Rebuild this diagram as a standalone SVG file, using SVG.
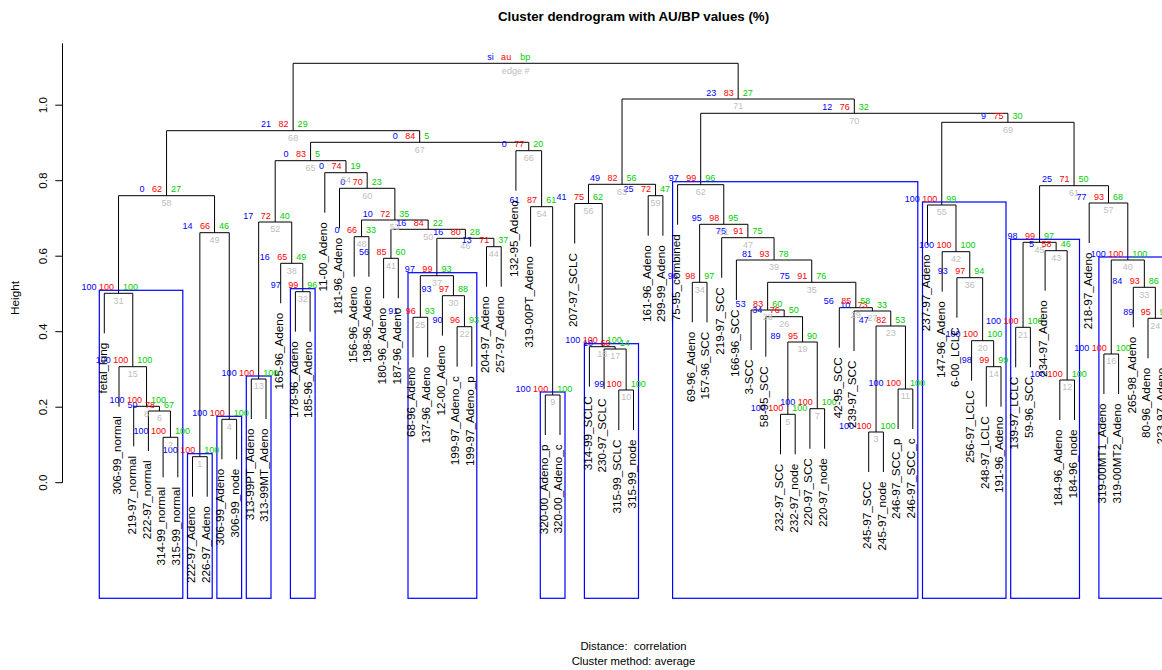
<svg xmlns="http://www.w3.org/2000/svg" width="1162" height="670" viewBox="0 0 1162 670">
<style>
text{font-family:"Liberation Sans",Arial,Helvetica,sans-serif}
.pv text{font-size:9px}
.si{fill:#0000ff;text-anchor:end}
.au{fill:#ff0000;text-anchor:end}
.bp{fill:#00cd00}
.ed{fill:#bebebe;text-anchor:middle}
.lf{font-size:11.7px;fill:#000;text-anchor:end}
.ax{font-size:11.7px;fill:#000;text-anchor:middle}
.box{fill:none;stroke:#0000ff;stroke-width:1.2}
</style>
<rect width="1162" height="670" fill="#fff"/>
<text x="633.5" y="21" font-size="13.3" font-weight="bold" text-anchor="middle">Cluster dendrogram with AU/BP values (%)</text>
<text x="633.5" y="650" font-size="11.3" text-anchor="middle" xml:space="preserve">Distance:  correlation</text>
<text x="633.5" y="665" font-size="11.3" text-anchor="middle">Cluster method: average</text>
<g id="yaxis" stroke="#000" fill="none" stroke-width="1">
<path d="M62.5 43.3V482.7M55.3 482.7H62.5M55.3 407.2H62.5M55.3 331.7H62.5M55.3 256.2H62.5M55.3 180.7H62.5M55.3 105.2H62.5"/>
</g>
<text class="ax" transform="translate(46.5,482.7) rotate(-90)">0.0</text>
<text class="ax" transform="translate(46.5,407.2) rotate(-90)">0.2</text>
<text class="ax" transform="translate(46.5,331.7) rotate(-90)">0.4</text>
<text class="ax" transform="translate(46.5,256.2) rotate(-90)">0.6</text>
<text class="ax" transform="translate(46.5,180.7) rotate(-90)">0.8</text>
<text class="ax" transform="translate(46.5,105.2) rotate(-90)">1.0</text>
<text class="ax" transform="translate(19,298) rotate(-90)">Height</text>
<g id="connectors" fill="none" stroke="#000" stroke-width="1">
<path d="M192.5 496.7V456.7H207.2V496.7"/>
<path d="M163.1 477.3V437.3H177.8V477.3"/>
<path d="M868.7 472V432H883.4V472"/>
<path d="M221.9 459.3V419.3H236.6V459.3"/>
<path d="M780.5 454.3V414.3H795.2V454.3"/>
<path d="M148.4 451V411H170.45V437.3"/>
<path d="M809.9 448.7V408.7H824.6V448.7"/>
<path d="M133.7 446.3V406.3H159.43V411"/>
<path d="M545.3 435V395H560V435"/>
<path d="M618.8 430V390H633.5V430"/>
<path d="M898.1 429V389H912.8V429"/>
<path d="M1059.8 420V380H1074.5V420"/>
<path d="M251.3 419V379H266V419"/>
<path d="M986.3 406.7V366.7H1001V406.7"/>
<path d="M119 406.7V366.7H146.56V406.3"/>
<path d="M1103.9 394V354H1118.6V394"/>
<path d="M604.1 389V349H626.15V390"/>
<path d="M589.4 386.7V346.7H615.13V349"/>
<path d="M787.85 414.3V342H817.25V408.7"/>
<path d="M971.6 380.7V340.7H993.65V366.7"/>
<path d="M1015.7 367.3V327.3H1030.4V367.3"/>
<path d="M457.1 366.7V326.7H471.8V366.7"/>
<path d="M876.05 432V326H905.45V389"/>
<path d="M1148 358.3V318.3H1162.7V358.3"/>
<path d="M413 357.3V317.3H427.7V357.3"/>
<path d="M765.8 356.7V316.7H802.55V342"/>
<path d="M854 351V311H890.75V326"/>
<path d="M751.1 350V310H784.18V316.7"/>
<path d="M839.3 347.7V307.7H872.38V311"/>
<path d="M442.4 335.7V295.7H464.45V326.7"/>
<path d="M104.3 333.3V293.3H132.78V366.7"/>
<path d="M295.4 331.7V291.7H310.1V331.7"/>
<path d="M1133.3 327.3V287.3H1155.35V318.3"/>
<path d="M692.3 322.3V282.3H707V322.3"/>
<path d="M767.64 310V282.3H855.84V307.7"/>
<path d="M956.9 317.7V277.7H982.63V340.7"/>
<path d="M420.35 317.3V275.7H453.43V295.7"/>
<path d="M280.7 303.3V263.3H302.75V291.7"/>
<path d="M736.4 300V260H811.74V282.3"/>
<path d="M1111.25 354V260H1144.33V287.3"/>
<path d="M383.6 298.3V258.3H398.3V298.3"/>
<path d="M942.2 291.7V251.7H969.77V277.7"/>
<path d="M1045.1 290.7V250.7H1067.15V380"/>
<path d="M486.5 286.7V246.7H501.2V286.7"/>
<path d="M1023.05 327.3V242.3H1056.13V250.7"/>
<path d="M436.89 275.7V238.3H493.85V246.7"/>
<path d="M721.7 277.7V237.7H774.07V260"/>
<path d="M354.2 276.7V236.7H368.9V276.7"/>
<path d="M199.85 456.7V232.7H229.25V419.3"/>
<path d="M390.95 258.3V229.3H465.37V238.3"/>
<path d="M699.65 282.3V224.3H747.89V237.7"/>
<path d="M258.65 379V222H291.73V263.3"/>
<path d="M361.55 236.7V220H428.16V229.3"/>
<path d="M530.6 246.7V206.7H552.65V395"/>
<path d="M927.5 245V205H955.99V251.7"/>
<path d="M574.7 243.5V203.5H602.26V346.7"/>
<path d="M1089.2 243V203H1127.79V260"/>
<path d="M118.54 293.3V195.7H214.55V232.7"/>
<path d="M648.2 235.7V195.7H662.9V235.7"/>
<path d="M339.5 228.3V188.3H394.86V220"/>
<path d="M1039.59 242.3V185.7H1108.5V203"/>
<path d="M677.6 224.7V184.7H723.77V224.3"/>
<path d="M588.48 203.5V184.3H655.55V195.7"/>
<path d="M324.8 212.7V172.7H367.18V188.3"/>
<path d="M275.19 222V160.7H345.99V172.7"/>
<path d="M515.9 190.7V150.7H541.63V206.7"/>
<path d="M310.59 160.7V142.3H528.77V150.7"/>
<path d="M166.55 195.7V130.7H419.68V142.3"/>
<path d="M941.75 205V122.3H1074.05V185.7"/>
<path d="M700.69 184.7V113.3H1007.9V122.3"/>
<path d="M622.02 184.3V99H854.3V113.3"/>
<path d="M293.12 130.7V63.3H738.16V99"/>
</g>
<g id="boxes">
<rect class="box" x="99.3" y="290.3" width="83.5" height="308"/>
<rect class="box" x="187.5" y="453.7" width="24.7" height="144.6"/>
<rect class="box" x="216.9" y="416.3" width="24.7" height="182"/>
<rect class="box" x="246.3" y="376" width="24.7" height="222.3"/>
<rect class="box" x="290.4" y="288.7" width="24.7" height="309.6"/>
<rect class="box" x="408" y="272.7" width="68.8" height="325.6"/>
<rect class="box" x="540.3" y="392" width="24.7" height="206.3"/>
<rect class="box" x="584.4" y="343.7" width="54.1" height="254.6"/>
<rect class="box" x="672.6" y="181.7" width="245.2" height="416.6"/>
<rect class="box" x="922.5" y="202" width="83.5" height="396.3"/>
<rect class="box" x="1010.7" y="239.3" width="68.8" height="359"/>
<rect class="box" x="1098.9" y="257" width="68.8" height="341.3"/>
</g>
<g class="pv">
<g id="n1" transform="translate(199.85,456.7)"><text class="si" x="-22" y="-3.5">100</text><text class="au" x="-4.5" y="-3.5">100</text><text class="bp" x="4.5" y="-3.5">100</text><text class="ed" y="10.3">1</text></g>
<g id="n2" transform="translate(170.45,437.3)"><text class="si" x="-22" y="-3.5">100</text><text class="au" x="-4.5" y="-3.5">100</text><text class="bp" x="4.5" y="-3.5">100</text><text class="ed" y="10.3">2</text></g>
<g id="n3" transform="translate(876.05,432)"><text class="si" x="-22" y="-3.5">100</text><text class="au" x="-4.5" y="-3.5">100</text><text class="bp" x="4.5" y="-3.5">100</text><text class="ed" y="10.3">3</text></g>
<g id="n4" transform="translate(229.25,419.3)"><text class="si" x="-22" y="-3.5">100</text><text class="au" x="-4.5" y="-3.5">100</text><text class="bp" x="4.5" y="-3.5">100</text><text class="ed" y="10.3">4</text></g>
<g id="n5" transform="translate(787.85,414.3)"><text class="si" x="-22" y="-3.5">100</text><text class="au" x="-4.5" y="-3.5">100</text><text class="bp" x="4.5" y="-3.5">100</text><text class="ed" y="10.3">5</text></g>
<g id="n6" transform="translate(159.43,411)"><text class="si" x="-22" y="-3.5">50</text><text class="au" x="-4.5" y="-3.5">78</text><text class="bp" x="4.5" y="-3.5">67</text><text class="ed" y="10.3">6</text></g>
<g id="n7" transform="translate(817.25,408.7)"><text class="si" x="-22" y="-3.5">100</text><text class="au" x="-4.5" y="-3.5">100</text><text class="bp" x="4.5" y="-3.5">100</text><text class="ed" y="10.3">7</text></g>
<g id="n8" transform="translate(146.56,406.3)"><text class="si" x="-22" y="-3.5">100</text><text class="au" x="-4.5" y="-3.5">100</text><text class="bp" x="4.5" y="-3.5">100</text><text class="ed" y="10.3">8</text></g>
<g id="n9" transform="translate(552.65,395)"><text class="si" x="-22" y="-3.5">100</text><text class="au" x="-4.5" y="-3.5">100</text><text class="bp" x="4.5" y="-3.5">100</text><text class="ed" y="10.3">9</text></g>
<g id="n10" transform="translate(626.15,390)"><text class="si" x="-22" y="-3.5">99</text><text class="au" x="-4.5" y="-3.5">100</text><text class="bp" x="4.5" y="-3.5">100</text><text class="ed" y="10.3">10</text></g>
<g id="n11" transform="translate(905.45,389)"><text class="si" x="-22" y="-3.5">100</text><text class="au" x="-4.5" y="-3.5">100</text><text class="bp" x="4.5" y="-3.5">100</text><text class="ed" y="10.3">11</text></g>
<g id="n12" transform="translate(1067.15,380)"><text class="si" x="-22" y="-3.5">100</text><text class="au" x="-4.5" y="-3.5">100</text><text class="bp" x="4.5" y="-3.5">100</text><text class="ed" y="10.3">12</text></g>
<g id="n13" transform="translate(258.65,379)"><text class="si" x="-22" y="-3.5">100</text><text class="au" x="-4.5" y="-3.5">100</text><text class="bp" x="4.5" y="-3.5">100</text><text class="ed" y="10.3">13</text></g>
<g id="n14" transform="translate(993.65,366.7)"><text class="si" x="-22" y="-3.5">98</text><text class="au" x="-4.5" y="-3.5">99</text><text class="bp" x="4.5" y="-3.5">99</text><text class="ed" y="10.3">14</text></g>
<g id="n15" transform="translate(132.78,366.7)"><text class="si" x="-22" y="-3.5">100</text><text class="au" x="-4.5" y="-3.5">100</text><text class="bp" x="4.5" y="-3.5">100</text><text class="ed" y="10.3">15</text></g>
<g id="n16" transform="translate(1111.25,354)"><text class="si" x="-22" y="-3.5">100</text><text class="au" x="-4.5" y="-3.5">100</text><text class="bp" x="4.5" y="-3.5">100</text><text class="ed" y="10.3">16</text></g>
<g id="n17" transform="translate(615.13,349)"><text class="si" x="-22" y="-3.5">10</text><text class="au" x="-4.5" y="-3.5">60</text><text class="bp" x="4.5" y="-3.5">14</text><text class="ed" y="10.3">17</text></g>
<g id="n18" transform="translate(602.26,346.7)"><text class="si" x="-22" y="-3.5">100</text><text class="au" x="-4.5" y="-3.5">100</text><text class="bp" x="4.5" y="-3.5">100</text><text class="ed" y="10.3">18</text></g>
<g id="n19" transform="translate(802.55,342)"><text class="si" x="-22" y="-3.5">89</text><text class="au" x="-4.5" y="-3.5">95</text><text class="bp" x="4.5" y="-3.5">90</text><text class="ed" y="10.3">19</text></g>
<g id="n20" transform="translate(982.63,340.7)"><text class="si" x="-22" y="-3.5">100</text><text class="au" x="-4.5" y="-3.5">100</text><text class="bp" x="4.5" y="-3.5">100</text><text class="ed" y="10.3">20</text></g>
<g id="n21" transform="translate(1023.05,327.3)"><text class="si" x="-22" y="-3.5">100</text><text class="au" x="-4.5" y="-3.5">100</text><text class="bp" x="4.5" y="-3.5">100</text><text class="ed" y="10.3">21</text></g>
<g id="n22" transform="translate(464.45,326.7)"><text class="si" x="-22" y="-3.5">90</text><text class="au" x="-4.5" y="-3.5">96</text><text class="bp" x="4.5" y="-3.5">93</text><text class="ed" y="10.3">22</text></g>
<g id="n23" transform="translate(890.75,326)"><text class="si" x="-22" y="-3.5">47</text><text class="au" x="-4.5" y="-3.5">82</text><text class="bp" x="4.5" y="-3.5">53</text><text class="ed" y="10.3">23</text></g>
<g id="n24" transform="translate(1155.35,318.3)"><text class="si" x="-22" y="-3.5">89</text><text class="au" x="-4.5" y="-3.5">95</text><text class="bp" x="4.5" y="-3.5">9</text><text class="ed" y="10.3">24</text></g>
<g id="n25" transform="translate(420.35,317.3)"><text class="si" x="-22" y="-3.5">91</text><text class="au" x="-4.5" y="-3.5">96</text><text class="bp" x="4.5" y="-3.5">93</text><text class="ed" y="10.3">25</text></g>
<g id="n26" transform="translate(784.18,316.7)"><text class="si" x="-22" y="-3.5">34</text><text class="au" x="-4.5" y="-3.5">76</text><text class="bp" x="4.5" y="-3.5">50</text><text class="ed" y="10.3">26</text></g>
<g id="n27" transform="translate(872.38,311)"><text class="si" x="-22" y="-3.5">10</text><text class="au" x="-4.5" y="-3.5">73</text><text class="bp" x="4.5" y="-3.5">33</text><text class="ed" y="10.3">27</text></g>
<g id="n28" transform="translate(767.64,310)"><text class="si" x="-22" y="-3.5">53</text><text class="au" x="-4.5" y="-3.5">83</text><text class="bp" x="4.5" y="-3.5">60</text><text class="ed" y="10.3">28</text></g>
<g id="n29" transform="translate(855.84,307.7)"><text class="si" x="-22" y="-3.5">56</text><text class="au" x="-4.5" y="-3.5">85</text><text class="bp" x="4.5" y="-3.5">58</text><text class="ed" y="10.3">29</text></g>
<g id="n30" transform="translate(453.43,295.7)"><text class="si" x="-22" y="-3.5">93</text><text class="au" x="-4.5" y="-3.5">97</text><text class="bp" x="4.5" y="-3.5">88</text><text class="ed" y="10.3">30</text></g>
<g id="n31" transform="translate(118.54,293.3)"><text class="si" x="-22" y="-3.5">100</text><text class="au" x="-4.5" y="-3.5">100</text><text class="bp" x="4.5" y="-3.5">100</text><text class="ed" y="10.3">31</text></g>
<g id="n32" transform="translate(302.75,291.7)"><text class="si" x="-22" y="-3.5">97</text><text class="au" x="-4.5" y="-3.5">99</text><text class="bp" x="4.5" y="-3.5">96</text><text class="ed" y="10.3">32</text></g>
<g id="n33" transform="translate(1144.33,287.3)"><text class="si" x="-22" y="-3.5">84</text><text class="au" x="-4.5" y="-3.5">93</text><text class="bp" x="4.5" y="-3.5">86</text><text class="ed" y="10.3">33</text></g>
<g id="n34" transform="translate(699.65,282.3)"><text class="si" x="-22" y="-3.5">96</text><text class="au" x="-4.5" y="-3.5">98</text><text class="bp" x="4.5" y="-3.5">97</text><text class="ed" y="10.3">34</text></g>
<g id="n35" transform="translate(811.74,282.3)"><text class="si" x="-22" y="-3.5">75</text><text class="au" x="-4.5" y="-3.5">91</text><text class="bp" x="4.5" y="-3.5">76</text><text class="ed" y="10.3">35</text></g>
<g id="n36" transform="translate(969.77,277.7)"><text class="si" x="-22" y="-3.5">93</text><text class="au" x="-4.5" y="-3.5">97</text><text class="bp" x="4.5" y="-3.5">94</text><text class="ed" y="10.3">36</text></g>
<g id="n37" transform="translate(436.89,275.7)"><text class="si" x="-22" y="-3.5">97</text><text class="au" x="-4.5" y="-3.5">99</text><text class="bp" x="4.5" y="-3.5">93</text><text class="ed" y="10.3">37</text></g>
<g id="n38" transform="translate(291.73,263.3)"><text class="si" x="-22" y="-3.5">16</text><text class="au" x="-4.5" y="-3.5">65</text><text class="bp" x="4.5" y="-3.5">49</text><text class="ed" y="10.3">38</text></g>
<g id="n39" transform="translate(774.07,260)"><text class="si" x="-22" y="-3.5">81</text><text class="au" x="-4.5" y="-3.5">93</text><text class="bp" x="4.5" y="-3.5">78</text><text class="ed" y="10.3">39</text></g>
<g id="n40" transform="translate(1127.79,260)"><text class="si" x="-22" y="-3.5">100</text><text class="au" x="-4.5" y="-3.5">100</text><text class="bp" x="4.5" y="-3.5">100</text><text class="ed" y="10.3">40</text></g>
<g id="n41" transform="translate(390.95,258.3)"><text class="si" x="-22" y="-3.5">56</text><text class="au" x="-4.5" y="-3.5">85</text><text class="bp" x="4.5" y="-3.5">60</text><text class="ed" y="10.3">41</text></g>
<g id="n42" transform="translate(955.99,251.7)"><text class="si" x="-22" y="-3.5">100</text><text class="au" x="-4.5" y="-3.5">100</text><text class="bp" x="4.5" y="-3.5">100</text><text class="ed" y="10.3">42</text></g>
<g id="n43" transform="translate(1056.13,250.7)"><text class="si" x="-22" y="-3.5">5</text><text class="au" x="-4.5" y="-3.5">58</text><text class="bp" x="4.5" y="-3.5">46</text><text class="ed" y="10.3">43</text></g>
<g id="n44" transform="translate(493.85,246.7)"><text class="si" x="-22" y="-3.5">13</text><text class="au" x="-4.5" y="-3.5">71</text><text class="bp" x="4.5" y="-3.5">37</text><text class="ed" y="10.3">44</text></g>
<g id="n45" transform="translate(1039.59,242.3)"><text class="si" x="-22" y="-3.5">98</text><text class="au" x="-4.5" y="-3.5">99</text><text class="bp" x="4.5" y="-3.5">97</text><text class="ed" y="10.3">45</text></g>
<g id="n46" transform="translate(465.37,238.3)"><text class="si" x="-22" y="-3.5">16</text><text class="au" x="-4.5" y="-3.5">80</text><text class="bp" x="4.5" y="-3.5">28</text><text class="ed" y="10.3">46</text></g>
<g id="n47" transform="translate(747.89,237.7)"><text class="si" x="-22" y="-3.5">75</text><text class="au" x="-4.5" y="-3.5">91</text><text class="bp" x="4.5" y="-3.5">75</text><text class="ed" y="10.3">47</text></g>
<g id="n48" transform="translate(361.55,236.7)"><text class="si" x="-22" y="-3.5">0</text><text class="au" x="-4.5" y="-3.5">66</text><text class="bp" x="4.5" y="-3.5">33</text><text class="ed" y="10.3">48</text></g>
<g id="n49" transform="translate(214.55,232.7)"><text class="si" x="-22" y="-3.5">14</text><text class="au" x="-4.5" y="-3.5">66</text><text class="bp" x="4.5" y="-3.5">46</text><text class="ed" y="10.3">49</text></g>
<g id="n50" transform="translate(428.16,229.3)"><text class="si" x="-22" y="-3.5">16</text><text class="au" x="-4.5" y="-3.5">84</text><text class="bp" x="4.5" y="-3.5">22</text><text class="ed" y="10.3">50</text></g>
<g id="n51" transform="translate(723.77,224.3)"><text class="si" x="-22" y="-3.5">95</text><text class="au" x="-4.5" y="-3.5">98</text><text class="bp" x="4.5" y="-3.5">95</text><text class="ed" y="10.3">51</text></g>
<g id="n52" transform="translate(275.19,222)"><text class="si" x="-22" y="-3.5">17</text><text class="au" x="-4.5" y="-3.5">72</text><text class="bp" x="4.5" y="-3.5">40</text><text class="ed" y="10.3">52</text></g>
<g id="n53" transform="translate(394.86,220)"><text class="si" x="-22" y="-3.5">10</text><text class="au" x="-4.5" y="-3.5">72</text><text class="bp" x="4.5" y="-3.5">35</text><text class="ed" y="10.3">53</text></g>
<g id="n54" transform="translate(541.63,206.7)"><text class="si" x="-22" y="-3.5">61</text><text class="au" x="-4.5" y="-3.5">87</text><text class="bp" x="4.5" y="-3.5">61</text><text class="ed" y="10.3">54</text></g>
<g id="n55" transform="translate(941.75,205)"><text class="si" x="-22" y="-3.5">100</text><text class="au" x="-4.5" y="-3.5">100</text><text class="bp" x="4.5" y="-3.5">99</text><text class="ed" y="10.3">55</text></g>
<g id="n56" transform="translate(588.48,203.5)"><text class="si" x="-22" y="-3.5">41</text><text class="au" x="-4.5" y="-3.5">75</text><text class="bp" x="4.5" y="-3.5">62</text><text class="ed" y="10.3">56</text></g>
<g id="n57" transform="translate(1108.5,203)"><text class="si" x="-22" y="-3.5">77</text><text class="au" x="-4.5" y="-3.5">93</text><text class="bp" x="4.5" y="-3.5">68</text><text class="ed" y="10.3">57</text></g>
<g id="n58" transform="translate(166.55,195.7)"><text class="si" x="-22" y="-3.5">0</text><text class="au" x="-4.5" y="-3.5">62</text><text class="bp" x="4.5" y="-3.5">27</text><text class="ed" y="10.3">58</text></g>
<g id="n59" transform="translate(655.55,195.7)"><text class="si" x="-22" y="-3.5">25</text><text class="au" x="-4.5" y="-3.5">72</text><text class="bp" x="4.5" y="-3.5">47</text><text class="ed" y="10.3">59</text></g>
<g id="n60" transform="translate(367.18,188.3)"><text class="si" x="-22" y="-3.5">0</text><text class="au" x="-4.5" y="-3.5">70</text><text class="bp" x="4.5" y="-3.5">23</text><text class="ed" y="10.3">60</text></g>
<g id="n61" transform="translate(1074.05,185.7)"><text class="si" x="-22" y="-3.5">25</text><text class="au" x="-4.5" y="-3.5">71</text><text class="bp" x="4.5" y="-3.5">50</text><text class="ed" y="10.3">61</text></g>
<g id="n62" transform="translate(700.69,184.7)"><text class="si" x="-22" y="-3.5">97</text><text class="au" x="-4.5" y="-3.5">99</text><text class="bp" x="4.5" y="-3.5">96</text><text class="ed" y="10.3">62</text></g>
<g id="n63" transform="translate(622.02,184.3)"><text class="si" x="-22" y="-3.5">49</text><text class="au" x="-4.5" y="-3.5">82</text><text class="bp" x="4.5" y="-3.5">56</text><text class="ed" y="10.3">63</text></g>
<g id="n64" transform="translate(345.99,172.7)"><text class="si" x="-22" y="-3.5">0</text><text class="au" x="-4.5" y="-3.5">74</text><text class="bp" x="4.5" y="-3.5">19</text><text class="ed" y="10.3">64</text></g>
<g id="n65" transform="translate(310.59,160.7)"><text class="si" x="-22" y="-3.5">0</text><text class="au" x="-4.5" y="-3.5">83</text><text class="bp" x="4.5" y="-3.5">5</text><text class="ed" y="10.3">65</text></g>
<g id="n66" transform="translate(528.77,150.7)"><text class="si" x="-22" y="-3.5">0</text><text class="au" x="-4.5" y="-3.5">77</text><text class="bp" x="4.5" y="-3.5">20</text><text class="ed" y="10.3">66</text></g>
<g id="n67" transform="translate(419.68,142.3)"><text class="si" x="-22" y="-3.5">0</text><text class="au" x="-4.5" y="-3.5">84</text><text class="bp" x="4.5" y="-3.5">5</text><text class="ed" y="10.3">67</text></g>
<g id="n68" transform="translate(293.12,130.7)"><text class="si" x="-22" y="-3.5">21</text><text class="au" x="-4.5" y="-3.5">82</text><text class="bp" x="4.5" y="-3.5">29</text><text class="ed" y="10.3">68</text></g>
<g id="n69" transform="translate(1007.9,122.3)"><text class="si" x="-22" y="-3.5">9</text><text class="au" x="-4.5" y="-3.5">75</text><text class="bp" x="4.5" y="-3.5">30</text><text class="ed" y="10.3">69</text></g>
<g id="n70" transform="translate(854.3,113.3)"><text class="si" x="-22" y="-3.5">12</text><text class="au" x="-4.5" y="-3.5">76</text><text class="bp" x="4.5" y="-3.5">32</text><text class="ed" y="10.3">70</text></g>
<g id="n71" transform="translate(738.16,99)"><text class="si" x="-22" y="-3.5">23</text><text class="au" x="-4.5" y="-3.5">83</text><text class="bp" x="4.5" y="-3.5">27</text><text class="ed" y="10.3">71</text></g>
<g id="root" transform="translate(515.64,63.3)"><text class="si" x="-22" y="-3.5">si</text><text class="au" x="-4.5" y="-3.5">au</text><text class="bp" x="4.5" y="-3.5">bp</text><text class="ed" y="10.3">edge #</text></g>
</g>
<g id="leaves">
<g id="L1"><text class="lf" transform="translate(106.6,342.8) rotate(-90)">fetal_lung</text></g>
<g id="L2"><text class="lf" transform="translate(121.3,416.2) rotate(-90)">306-99_normal</text></g>
<g id="L3"><text class="lf" transform="translate(136,455.8) rotate(-90)">219-97_normal</text></g>
<g id="L4"><text class="lf" transform="translate(150.7,460.5) rotate(-90)">222-97_normal</text></g>
<g id="L5"><text class="lf" transform="translate(165.4,486.8) rotate(-90)">314-99_normal</text></g>
<g id="L6"><text class="lf" transform="translate(180.1,486.8) rotate(-90)">315-99_normal</text></g>
<g id="L7"><text class="lf" transform="translate(194.8,506.2) rotate(-90)">222-97_Adeno</text></g>
<g id="L8"><text class="lf" transform="translate(209.5,506.2) rotate(-90)">226-97_Adeno</text></g>
<g id="L9"><text class="lf" transform="translate(224.2,468.8) rotate(-90)">306-99_Adeno</text></g>
<g id="L10"><text class="lf" transform="translate(238.9,468.8) rotate(-90)">306-99_node</text></g>
<g id="L11"><text class="lf" transform="translate(253.6,428.5) rotate(-90)">313-99PT_Adeno</text></g>
<g id="L12"><text class="lf" transform="translate(268.3,428.5) rotate(-90)">313-99MT_Adeno</text></g>
<g id="L13"><text class="lf" transform="translate(283,312.8) rotate(-90)">165-96_Adeno</text></g>
<g id="L14"><text class="lf" transform="translate(297.7,341.2) rotate(-90)">178-96_Adeno</text></g>
<g id="L15"><text class="lf" transform="translate(312.4,341.2) rotate(-90)">185-96_Adeno</text></g>
<g id="L16"><text class="lf" transform="translate(327.1,222.2) rotate(-90)">11-00_Adeno</text></g>
<g id="L17"><text class="lf" transform="translate(341.8,237.8) rotate(-90)">181-96_Adeno</text></g>
<g id="L18"><text class="lf" transform="translate(356.5,286.2) rotate(-90)">156-96_Adeno</text></g>
<g id="L19"><text class="lf" transform="translate(371.2,286.2) rotate(-90)">198-96_Adeno</text></g>
<g id="L20"><text class="lf" transform="translate(385.9,307.8) rotate(-90)">180-96_Adeno</text></g>
<g id="L21"><text class="lf" transform="translate(400.6,307.8) rotate(-90)">187-96_Adeno</text></g>
<g id="L22"><text class="lf" transform="translate(415.3,366.8) rotate(-90)">68-96_Adeno</text></g>
<g id="L23"><text class="lf" transform="translate(430,366.8) rotate(-90)">137-96_Adeno</text></g>
<g id="L24"><text class="lf" transform="translate(444.7,345.2) rotate(-90)">12-00_Adeno</text></g>
<g id="L25"><text class="lf" transform="translate(459.4,376.2) rotate(-90)">199-97_Adeno_c</text></g>
<g id="L26"><text class="lf" transform="translate(474.1,376.2) rotate(-90)">199-97_Adeno_p</text></g>
<g id="L27"><text class="lf" transform="translate(488.8,296.2) rotate(-90)">204-97_Adeno</text></g>
<g id="L28"><text class="lf" transform="translate(503.5,296.2) rotate(-90)">257-97_Adeno</text></g>
<g id="L29"><text class="lf" transform="translate(518.2,200.2) rotate(-90)">132-95_Adeno</text></g>
<g id="L30"><text class="lf" transform="translate(532.9,256.2) rotate(-90)">319-00PT_Adeno</text></g>
<g id="L31"><text class="lf" transform="translate(547.6,444.5) rotate(-90)">320-00_Adeno_p</text></g>
<g id="L32"><text class="lf" transform="translate(562.3,444.5) rotate(-90)">320-00_Adeno_c</text></g>
<g id="L33"><text class="lf" transform="translate(577,253) rotate(-90)">207-97_SCLC</text></g>
<g id="L34"><text class="lf" transform="translate(591.7,396.2) rotate(-90)">314-99_SCLC</text></g>
<g id="L35"><text class="lf" transform="translate(606.4,398.5) rotate(-90)">230-97_SCLC</text></g>
<g id="L36"><text class="lf" transform="translate(621.1,439.5) rotate(-90)">315-99_SCLC</text></g>
<g id="L37"><text class="lf" transform="translate(635.8,439.5) rotate(-90)">315-99_node</text></g>
<g id="L38"><text class="lf" transform="translate(650.5,245.2) rotate(-90)">161-96_Adeno</text></g>
<g id="L39"><text class="lf" transform="translate(665.2,245.2) rotate(-90)">299-99_Adeno</text></g>
<g id="L40"><text class="lf" transform="translate(679.9,234.2) rotate(-90)">75-95_combined</text></g>
<g id="L41"><text class="lf" transform="translate(694.6,331.8) rotate(-90)">69-96_Adeno</text></g>
<g id="L42"><text class="lf" transform="translate(709.3,331.8) rotate(-90)">157-96_SCC</text></g>
<g id="L43"><text class="lf" transform="translate(724,287.2) rotate(-90)">219-97_SCC</text></g>
<g id="L44"><text class="lf" transform="translate(738.7,309.5) rotate(-90)">166-96_SCC</text></g>
<g id="L45"><text class="lf" transform="translate(753.4,359.5) rotate(-90)">3-SCC</text></g>
<g id="L46"><text class="lf" transform="translate(768.1,366.2) rotate(-90)">58-95_SCC</text></g>
<g id="L47"><text class="lf" transform="translate(782.8,463.8) rotate(-90)">232-97_SCC</text></g>
<g id="L48"><text class="lf" transform="translate(797.5,463.8) rotate(-90)">232-97_node</text></g>
<g id="L49"><text class="lf" transform="translate(812.2,458.2) rotate(-90)">220-97_SCC</text></g>
<g id="L50"><text class="lf" transform="translate(826.9,458.2) rotate(-90)">220-97_node</text></g>
<g id="L51"><text class="lf" transform="translate(841.6,357.2) rotate(-90)">42-95_SCC</text></g>
<g id="L52"><text class="lf" transform="translate(856.3,360.5) rotate(-90)">239-97_SCC</text></g>
<g id="L53"><text class="lf" transform="translate(871,481.5) rotate(-90)">245-97_SCC</text></g>
<g id="L54"><text class="lf" transform="translate(885.7,481.5) rotate(-90)">245-97_node</text></g>
<g id="L55"><text class="lf" transform="translate(900.4,438.5) rotate(-90)">246-97_SCC_p</text></g>
<g id="L56"><text class="lf" transform="translate(915.1,438.5) rotate(-90)">246-97_SCC_c</text></g>
<g id="L57"><text class="lf" transform="translate(929.8,254.5) rotate(-90)">237-97_Adeno</text></g>
<g id="L58"><text class="lf" transform="translate(944.5,301.2) rotate(-90)">147-96_Adeno</text></g>
<g id="L59"><text class="lf" transform="translate(959.2,327.2) rotate(-90)">6-00_LCLC</text></g>
<g id="L60"><text class="lf" transform="translate(973.9,390.2) rotate(-90)">256-97_LCLC</text></g>
<g id="L61"><text class="lf" transform="translate(988.6,416.2) rotate(-90)">248-97_LCLC</text></g>
<g id="L62"><text class="lf" transform="translate(1003.3,416.2) rotate(-90)">191-96_Adeno</text></g>
<g id="L63"><text class="lf" transform="translate(1018,376.8) rotate(-90)">139-97_LCLC</text></g>
<g id="L64"><text class="lf" transform="translate(1032.7,376.8) rotate(-90)">59-96_SCC</text></g>
<g id="L65"><text class="lf" transform="translate(1047.4,300.2) rotate(-90)">234-97_Adeno</text></g>
<g id="L66"><text class="lf" transform="translate(1062.1,429.5) rotate(-90)">184-96_Adeno</text></g>
<g id="L67"><text class="lf" transform="translate(1076.8,429.5) rotate(-90)">184-96_node</text></g>
<g id="L68"><text class="lf" transform="translate(1091.5,252.5) rotate(-90)">218-97_Adeno</text></g>
<g id="L69"><text class="lf" transform="translate(1106.2,403.5) rotate(-90)">319-00MT1_Adeno</text></g>
<g id="L70"><text class="lf" transform="translate(1120.9,403.5) rotate(-90)">319-00MT2_Adeno</text></g>
<g id="L71"><text class="lf" transform="translate(1135.6,336.8) rotate(-90)">265-98_Adeno</text></g>
<g id="L72"><text class="lf" transform="translate(1150.3,367.8) rotate(-90)">80-96_Adeno</text></g>
<g id="L73"><text class="lf" transform="translate(1165,367.8) rotate(-90)">223-97_Adeno</text></g>
</g>
</svg>
